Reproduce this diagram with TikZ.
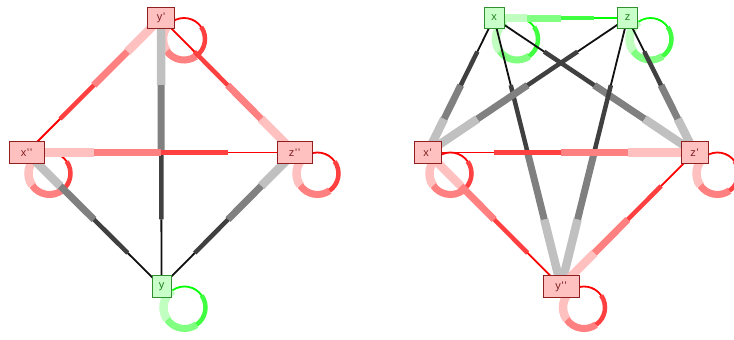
\documentclass[tikz,border=0pt]{standalone}
\usepackage{fontspec}
\setmainfont{Liberation Sans}
\usetikzlibrary{calc}
\pgfdeclarelayer{bg}
\pgfsetlayers{bg,main}
\definecolor{rA}{HTML}{FFC0C0}
\definecolor{rB}{HTML}{FF8080}
\definecolor{rC}{HTML}{FF4040}
\definecolor{rD}{HTML}{FF0000}
\definecolor{gA}{HTML}{C0C0C0}
\definecolor{gB}{HTML}{808080}
\definecolor{gC}{HTML}{404040}
\definecolor{gD}{HTML}{101010}
\definecolor{nA}{HTML}{C0FFC0}
\definecolor{nB}{HTML}{80FF80}
\definecolor{nC}{HTML}{40FF40}
\definecolor{nD}{HTML}{00FF00}
\definecolor{pinkborder}{HTML}{902020}
\definecolor{pinktext}{HTML}{802020}
\definecolor{greenborder}{HTML}{309030}
\definecolor{greentext}{HTML}{208020}
\tikzset{
  basenode/.style={rectangle, inner sep=0pt, minimum height=21.5pt, line width=0.8pt,
    font=\fontsize{11}{11}\selectfont},
  pinknode/.style={basenode, draw=pinkborder, fill=rA, text=pinktext},
  greennode/.style={basenode, draw=greenborder, fill=nA!85!white, text=greentext},
  sA/.style={line width=8.5pt},
  sB/.style={line width=7pt},
  sC/.style={line width=4.5pt},
  sD/.style={line width=1.8pt}
}
\newcommand\tedge[3]{%
  \draw[sA,#3A] (#1.center) -- ($(#1.center)!0.25!(#2.center)$);
  \draw[sB,#3B] ($(#1.center)!0.25!(#2.center)$) -- ($(#1.center)!0.5!(#2.center)$);
  \draw[sC,#3C] ($(#1.center)!0.5!(#2.center)$) -- ($(#1.center)!0.75!(#2.center)$);
  \draw[sD,#3D] ($(#1.center)!0.75!(#2.center)$) -- (#2.center);}
\newcommand\tloop[2]{%
  \coordinate (#1-lc) at ($(#1.center)+(23,21)$);
  \draw[sA,#2A] ([shift={(125:21pt)}]#1-lc) arc[start angle=125,end angle=215,radius=21pt];
  \draw[sB,#2B] ([shift={(215:21pt)}]#1-lc) arc[start angle=215,end angle=305,radius=21pt];
  \draw[sC,#2C] ([shift={(305:21pt)}]#1-lc) arc[start angle=305,end angle=395,radius=21pt];
  \draw[sD,#2D] ([shift={(35:21pt)}]#1-lc) arc[start angle=35,end angle=125,radius=21pt];}
\newcommand\pr{\kern0.8pt\textquotesingle}
\begin{document}
\begin{tikzpicture}[x=1pt,y=-1pt]
\useasboundingbox (0,0) rectangle (734,340);
% left graph nodes
\node[pinknode, minimum width=27pt] (yp) at (161,18) {y\pr};
\node[pinknode, minimum width=35pt] (xpp) at (26.5,152.5) {x\pr\pr};
\node[pinknode, minimum width=35pt] (zpp) at (294.5,152.5) {z\pr\pr};
\node[greennode, minimum width=19pt] (y) at (161.5,286.5) {y};
% right graph nodes
\node[greennode, minimum width=20pt] (x) at (494,18) {x};
\node[greennode, minimum width=19.5pt] (z) at (627.5,18) {z};
\node[pinknode, minimum width=27pt] (xp) at (427.5,152.5) {x\pr};
\node[pinknode, minimum width=27pt] (zp) at (694.5,152.5) {z\pr};
\node[pinknode, minimum width=36pt] (ypp) at (561,286.5) {y\pr\pr};
\begin{pgfonlayer}{bg}
% loops
\tloop{yp}{r}
\tloop{xpp}{r}
\tloop{zpp}{r}
\tloop{y}{n}
\tloop{x}{n}
\tloop{z}{n}
\tloop{xp}{r}
\tloop{zp}{r}
\tloop{ypp}{r}
% left edges
\tedge{yp}{xpp}{r}
\tedge{zpp}{yp}{r}
\tedge{yp}{y}{g}
\tedge{xpp}{zpp}{r}
\tedge{xpp}{y}{g}
\tedge{zpp}{y}{g}
% right edges
\tedge{x}{z}{n}
\tedge{xp}{x}{g}
\tedge{ypp}{x}{g}
\tedge{zp}{x}{g}
\tedge{xp}{z}{g}
\tedge{ypp}{z}{g}
\tedge{zp}{z}{g}
\tedge{zp}{xp}{r}
\tedge{xp}{ypp}{r}
\tedge{ypp}{zp}{r}
\end{pgfonlayer}
\end{tikzpicture}
\end{document}
